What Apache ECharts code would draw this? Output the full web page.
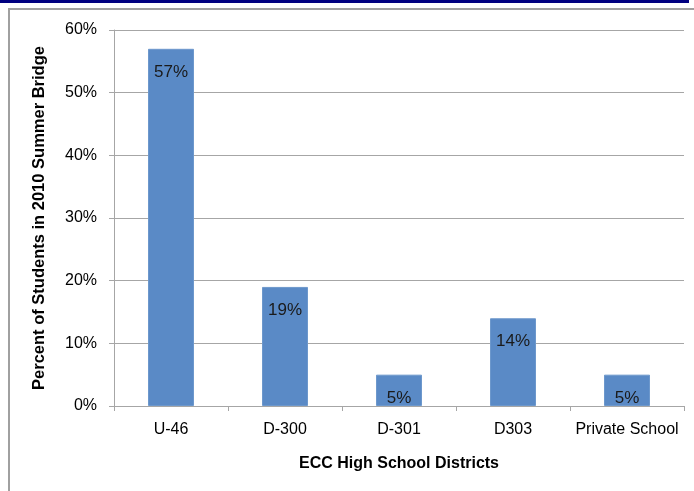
<!DOCTYPE html>
<html>
<head>
<meta charset="utf-8">
<script src="https://cdn.jsdelivr.net/npm/echarts@6/dist/echarts.min.js"></script>
<style>
  html, body { margin: 0; padding: 0; background: #ffffff; }
  #chart { width: 694px; height: 491px; }
</style>
</head>
<body>
<div id="chart"></div>
<script>
// District categories and share of Summer Bridge students (percent)
const districts = ['U-46', 'D-300', 'D-301', 'D303', 'Private School'];
const percentStudents = [57, 19, 5, 14, 5];
const yTicks = [0, 10, 20, 30, 40, 50, 60];

const FONT = '"Liberation Sans", Arial, sans-serif';
const chart = echarts.init(document.getElementById('chart'), null, { renderer: 'canvas' });

chart.setOption({
  backgroundColor: '#ffffff',
  animation: false,
  graphic: [
    // slide header band and page frame
    { type: 'rect', shape: { x: 0, y: 0, width: 689, height: 3 }, style: { fill: '#000080' }, z: 10 },
    { type: 'rect', shape: { x: 8, y: 8, width: 686, height: 2 }, style: { fill: '#a0a0a0' }, z: 10 },
    { type: 'rect', shape: { x: 8, y: 8, width: 2, height: 483 }, style: { fill: '#a0a0a0' }, z: 10 }
  ],
  grid: { left: 114, right: 10, top: 30, bottom: 85, containLabel: false },
  xAxis: {
    type: 'category',
    data: districts,
    boundaryGap: true,
    name: 'ECC High School Districts',
    nameLocation: 'middle',
    nameGap: 50,
    nameTextStyle: { fontFamily: FONT, fontSize: 16, fontWeight: 'bold', color: '#000' },
    axisLine: { show: true, lineStyle: { color: '#a6a6a6', width: 1 } },
    axisTick: { show: true, length: 5, alignWithLabel: false, lineStyle: { color: '#a6a6a6' } },
    axisLabel: { fontFamily: FONT, fontSize: 16, color: '#000', margin: 16, interval: 0 }
  },
  yAxis: {
    type: 'value',
    min: yTicks[0],
    max: yTicks[yTicks.length - 1],
    interval: yTicks[1] - yTicks[0],
    name: 'Percent of Students in 2010 Summer Bridge',
    nameLocation: 'middle',
    nameGap: 66,
    nameTextStyle: { fontFamily: FONT, fontSize: 16.5, fontWeight: 'bold', color: '#000' },
    axisLine: { show: true, lineStyle: { color: '#a6a6a6', width: 1 } },
    axisTick: { show: true, length: 5, lineStyle: { color: '#a6a6a6' } },
    axisLabel: { fontFamily: FONT, fontSize: 16, color: '#000', margin: 17, formatter: '{value}%' },
    splitLine: { show: true, lineStyle: { color: '#a6a6a6', width: 1 } }
  },
  series: [{
    type: 'bar',
    data: percentStudents,
    barWidth: 46,
    itemStyle: { color: '#5a8ac6', borderColor: '#6d98cc', borderWidth: 1 },
    label: {
      show: true,
      position: 'insideTop',
      distance: 15,
      formatter: '{c}%',
      fontFamily: FONT,
      fontSize: 17,
      color: '#1a1a1a'
    }
  }]
});
</script>
</body>
</html>
